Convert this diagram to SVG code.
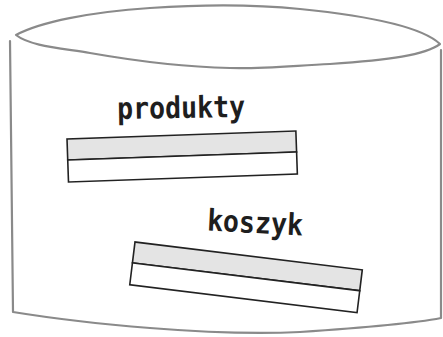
<svg xmlns="http://www.w3.org/2000/svg" width="443" height="337" viewBox="0 0 443 337">
<style>
.sk{fill:none;stroke:#8a8a8a;stroke-width:2.2;stroke-linecap:round;stroke-linejoin:round}
.tb{stroke:#222;stroke-width:1.6}
.hd{fill:#e4e4e4}
.bd{fill:#ffffff}
.lbl{font-family:"DejaVu Sans Mono","Liberation Mono",monospace;font-weight:bold;font-size:30px;fill:#1e1e1e}
</style>
<rect width="443" height="337" fill="#ffffff"/>
<g id="cylinder">
<path class="sk" d="M16,35 C40,22 90,12 150,8 C210,4 260,5 300,9 C360,15 420,25 440,44 C425,55 390,60 330,64 C290,66 260,69 230,68 C180,67 130,60 90,53 C60,48 30,46 16,35 Z"/>
<path class="sk" d="M10,41 C11,100 11,200 13,312 C50,318 100,324 150,328 C200,332 260,334 300,332 C360,328 410,324 441,318 L441,50"/>
</g>
<g id="produkty">
<text class="lbl" x="117" y="118" textLength="128" lengthAdjust="spacingAndGlyphs" transform="rotate(-1 181 110)">produkty</text>
<g transform="translate(67,139) rotate(-2)">
<rect class="hd tb" x="0" y="0" width="229" height="21"/>
<rect class="bd tb" x="0" y="21" width="229" height="22"/>
</g>
</g>
<g id="koszyk">
<text class="lbl" x="207" y="233" textLength="96" lengthAdjust="spacingAndGlyphs" transform="rotate(3 255 225)">koszyk</text>
<g transform="translate(135,242) rotate(7)">
<rect class="hd tb" x="0" y="0" width="229" height="21"/>
<rect class="bd tb" x="0" y="21" width="229" height="22"/>
</g>
</g>
<g id="connectors"/>
</svg>
